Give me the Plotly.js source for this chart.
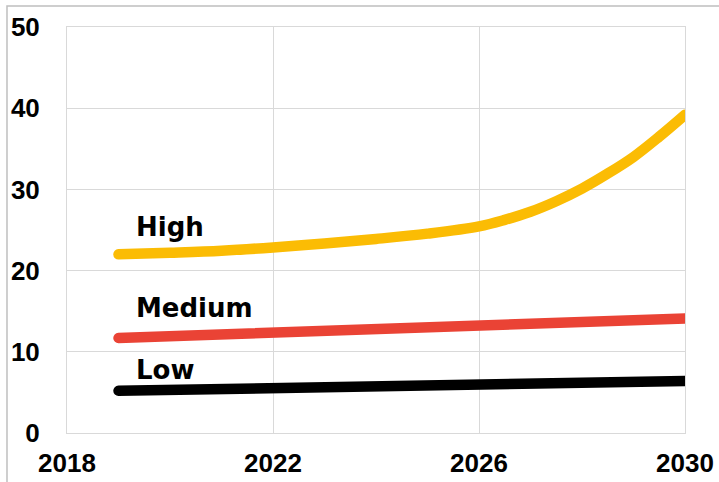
<!DOCTYPE html>
<html>
<head>
<meta charset="utf-8">
<script src="https://cdn.plot.ly/plotly-3.0.1.min.js"></script>
<style>
  html, body { margin: 0; padding: 0; background: #fff; }
  #chart { width: 719px; height: 482px; }
  .js-line { stroke-linecap: round; }
</style>
</head>
<body>
<div id="chart"></div>
<script>
const years = [2019, 2020, 2021, 2022, 2023, 2024, 2025, 2026, 2027, 2028, 2029, 2030];
const highYears = [2019, 2020, 2021, 2022, 2023, 2024, 2025, 2026, 2026.5, 2027, 2027.5, 2028, 2028.5, 2029, 2029.5, 2030];
const highValues = [22.0, 22.2, 22.45, 22.85, 23.35, 23.9, 24.55, 25.45, 26.25, 27.25, 28.55, 30.1, 31.95, 34.0, 36.5, 39.2];
const mediumValues = [11.7, 11.9, 12.1, 12.35, 12.55, 12.75, 12.95, 13.2, 13.4, 13.6, 13.85, 14.1];
const lowValues = [5.2, 5.3, 5.4, 5.5, 5.65, 5.75, 5.85, 5.95, 6.05, 6.15, 6.3, 6.4];
const seriesNames = ["High", "Medium", "Low"];
const xTicks = [2018, 2022, 2026, 2030];
const yTicks = [0, 10, 20, 30, 40, 50];

const colors = ["#FBBC04", "#EA4335", "#000000"];
const seriesX = [highYears, years, years];
const allValues = [highValues, mediumValues, lowValues];
const shapes = ["spline", "linear", "linear"];

const traces = allValues.map((vals, i) => ({
  x: seriesX[i],
  y: vals,
  type: "scatter",
  mode: "lines",
  name: seriesNames[i],
  line: { color: colors[i], width: 10.5, shape: shapes[i], smoothing: 1 },
  hoverinfo: "skip"
}));

const labelY = [25.4, 15.4, 7.7];
const annotations = seriesNames.map((n, i) => ({
  x: 2019.3,
  y: labelY[i],
  xref: "x",
  yref: "y",
  text: n,
  showarrow: false,
  xanchor: "left",
  yanchor: "middle",
  font: { family: "DejaVu Sans", size: 26, weight: "bold", color: "#000" }
}));

const tickFont = { family: "Liberation Sans, Arial, sans-serif", size: 26, weight: "bold", color: "#000" };

const layout = {
  width: 719,
  height: 482,
  margin: { l: 67, r: 34, t: 27, b: 49 },
  paper_bgcolor: "#ffffff",
  plot_bgcolor: "#ffffff",
  showlegend: false,
  xaxis: {
    range: [2018, 2030],
    tickvals: xTicks,
    ticktext: xTicks.map(String),
    tickfont: tickFont,
    showgrid: true,
    gridcolor: "#d9d9d9",
    gridwidth: 1,
    zeroline: false,
    showline: true,
    linecolor: "#d9d9d9",
    mirror: true,
    ticks: "outside",
    ticklen: 7,
    tickcolor: "rgba(0,0,0,0)",
    fixedrange: true
  },
  yaxis: {
    range: [0, 50],
    tickvals: yTicks,
    ticktext: yTicks.map(String),
    tickfont: tickFont,
    showgrid: true,
    gridcolor: "#d9d9d9",
    gridwidth: 1,
    zeroline: false,
    showline: true,
    linecolor: "#d9d9d9",
    mirror: true,
    ticks: "outside",
    ticklen: 21,
    tickcolor: "rgba(0,0,0,0)",
    fixedrange: true
  },
  annotations: annotations,
  shapes: [{
    type: "path",
    xref: "paper",
    yref: "paper",
    path: "M -0.0971 -0.2 L -0.0971 1.0517 L 1.1 1.0517",
    line: { color: "#bfbfbf", width: 1.5 },
    layer: "below"
  }]
};

Plotly.newPlot("chart", traces, layout, { displayModeBar: false, staticPlot: true });
</script>
</body>
</html>
